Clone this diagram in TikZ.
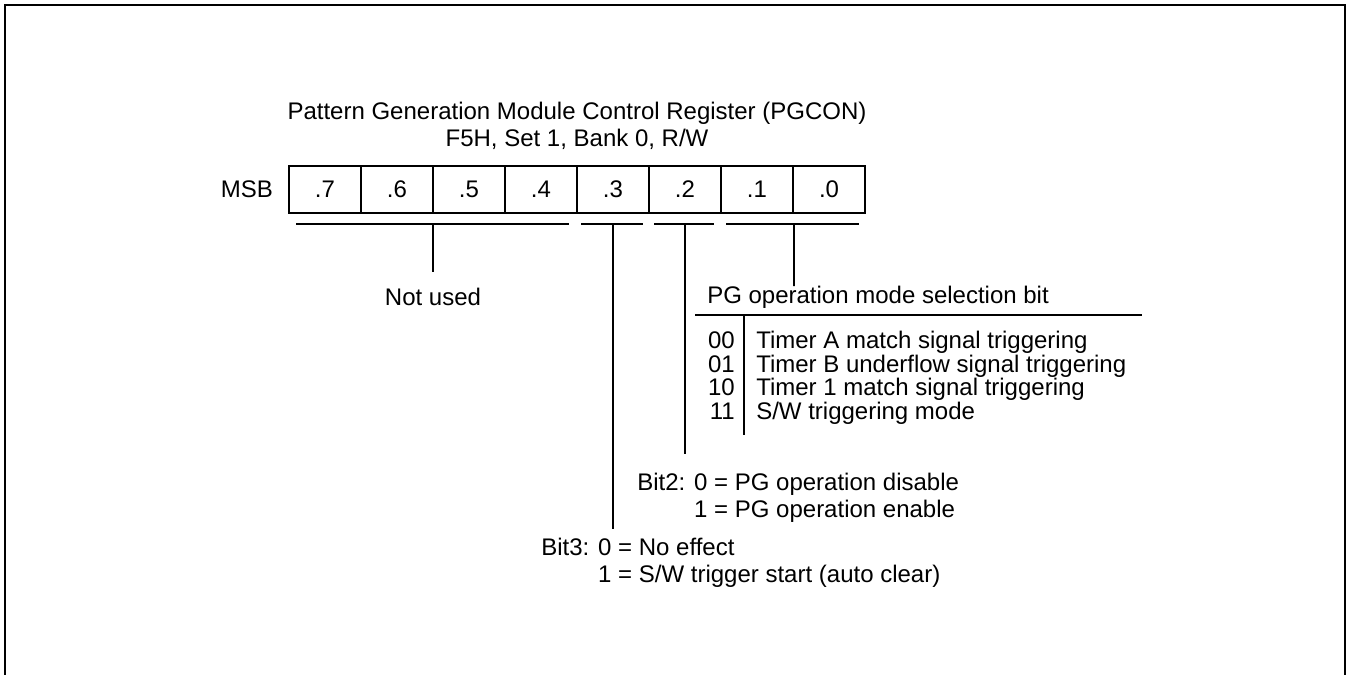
\documentclass[tikz,border=0pt]{standalone}
\usepackage{fontspec}
\setmainfont{Liberation Sans}
\usetikzlibrary{calc}
\tikzset{
  bitcell/.style={draw,line width=1.2pt,minimum width=54pt,minimum height=35.25pt,inner sep=0pt},
  brace/.style={line width=1.4pt},
  lead/.style={line width=1.1pt},
  txt/.style={inner sep=0pt,align=left}
}
\begin{document}
\begin{tikzpicture}[x=0.75pt,y=-0.75pt,font=\fontsize{18pt}{20.5pt}\selectfont]
\useasboundingbox (0,0) rectangle (1350,675);
% cadre
\draw[line width=1.6pt] (5,675) -- (5,5) -- (1345,5) -- (1345,675);
% registre PGCON
\node[align=center] (title) at (577,126) {Pattern Generation Module Control Register (PGCON)\\F5H, Set 1, Bank 0, R/W};
\foreach \i in {0,...,7}
  \node[bitcell] (b\i) at ({829-72*\i},189.5) {.\i};
\node[anchor=east] (msb) at ([xshift=-8pt]b7.west) {MSB};
% accolades sous les bits
\draw[brace] ([shift={(8,10)}]b7.south west) -- ([shift={(-9,10)}]b4.south east);
\draw[brace] ([shift={(5,10)}]b3.south west) -- ([shift={(-7,10)}]b3.south east);
\draw[brace] ([shift={(6,10)}]b2.south west) -- ([shift={(-8,10)}]b2.south east);
\draw[brace] ([shift={(6,10)}]b1.south west) -- ([shift={(-7,10)}]b0.south east);
\coordinate (nu) at ($(b7.south west)!.5!(b4.south east)+(0,10)$);
\coordinate (c3) at ($(b3.south)+(0,10)$);
\coordinate (c2) at ($(b2.south)+(0,10)$);
\coordinate (c10) at ($(b1.south east)+(0,10)$);
% textes
\node (notused) at (433,297) {Not used};
\node[txt,anchor=west] (pgmode) at (707,297.5) {PG operation mode selection bit};
\foreach \c/\t [count=\k from 0] in {00/{Timer A match signal triggering},01/{Timer B underflow signal triggering},10/{Timer 1 match signal triggering},11/{S/W triggering mode}}{
  \node[txt,anchor=base east] (code\k) at (735,{348.5+23.5*\k}) {\c};
  \node[txt,anchor=base west] (mode\k) at (756,{348.5+23.5*\k}) {\t};
}
\draw[lead] (695,315) -- (1142,315);
\draw[lead] (744,315) -- (744,435);
\node[txt,anchor=north west] (bittwo) at (637,473) {Bit2: 0 = PG operation disable\\\phantom{Bit2: }1 = PG operation enable};
\node[txt,anchor=north west] (bitthree) at (541,538) {Bit3: 0 = No effect\\\phantom{Bit3: }1 = S/W trigger start (auto clear)};
% traits verticaux
\draw[lead,shorten >=8.5pt] (nu) -- (nu |- notused.north);
\draw[lead] (c10) -- (c10 |- pgmode.north) -- ++(0,-12);
\draw[lead,shorten >=14pt] (c2) -- (c2 |- bittwo.north);
\draw[lead,shorten >=7pt] (c3) -- (c3 |- bitthree.north);
\end{tikzpicture}
\end{document}
